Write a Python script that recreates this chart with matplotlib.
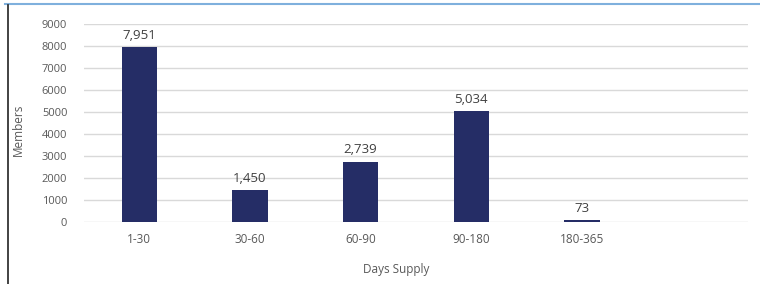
import matplotlib
matplotlib.use("Agg")
import matplotlib.pyplot as plt
from matplotlib.lines import Line2D

categories = ["1-30", "30-60", "60-90", "90-180", "180-365", ""]
members = [7951, 1450, 2739, 5034, 73, None]
value_labels = ["7,951", "1,450", "2,739", "5,034", "73", ""]
yticks = [0, 1000, 2000, 3000, 4000, 5000, 6000, 7000, 8000, 9000]

plt.rcParams['font.family'] = ['Open Sans', 'DejaVu Sans']

fig = plt.figure(figsize=(7.6, 2.84), dpi=100)
ax = fig.add_axes([84/760, 1-222/284, (748-84)/760, (222-24)/284])

xs = list(range(len(categories)))
vals = [v if v is not None else 0 for v in members]
bars = ax.bar(xs, vals, width=0.32, color="#252d66", zorder=3)
for x, v, lab in zip(xs, members, value_labels):
    if v is None:
        continue
    ax.annotate(lab, (x, v), xytext=(0, 4), textcoords="offset points",
                ha="center", va="bottom", fontsize=9.5, color="#404040")

ax.set_xlim(-0.5, len(categories) - 0.5)
ax.set_ylim(0, 9000)
ax.set_yticks(yticks)
ax.set_yticklabels([str(t) for t in yticks], fontsize=8, color="#595959")
ax.set_xticks(xs)
ax.set_xticklabels(categories, fontsize=8.5, color="#595959")
ax.tick_params(axis='both', length=0, pad=8)
ax.tick_params(axis='y', pad=12)
ax.grid(axis='y', color="#d9d9d9", linewidth=1, zorder=0)
for s in ax.spines.values():
    s.set_visible(False)

fig.text(18/760, 1-130/284, "Members", rotation=90, ha="center", va="center",
         fontsize=8.5, color="#595959")
fig.text(396/760, 1-270/284, "Days Supply", ha="center", va="center",
         fontsize=8.5, color="#595959")

# frame lines at left/top
fig.add_artist(Line2D([5/760, 1], [1-4/284, 1-4/284], color="#7fb0dd", linewidth=1.5,
                      transform=fig.transFigure))
fig.add_artist(Line2D([7.5/760, 7.5/760], [0, 1-5/284], color="#222222", linewidth=1.2,
                      transform=fig.transFigure))

fig.savefig("out.png", dpi=100)
